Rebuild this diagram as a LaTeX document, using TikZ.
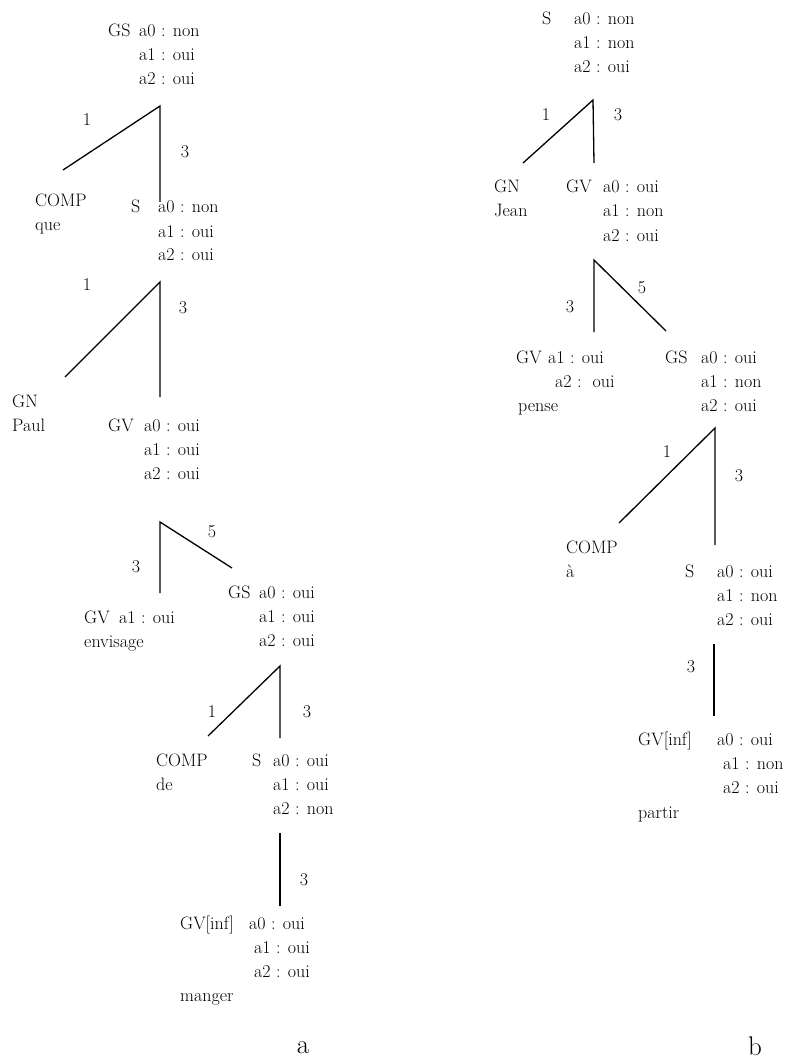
\documentclass[tikz,border=0pt]{standalone}
\begin{document}
\begin{tikzpicture}[x=1pt,y=-1pt,
  lbl/.style={anchor=base west, inner sep=0pt, font=\fontsize{18}{24}\selectfont},
  num/.style={anchor=center, inner sep=0pt, font=\fontsize{18}{24}\selectfont},
  sublbl/.style={anchor=center, inner sep=0pt, font=\fontsize{27}{30}\selectfont},
  edge/.style={line width=1.3pt}]
\useasboundingbox (0,0) rectangle (790,1059);
% ---------------- Tree a ----------------
\node[lbl] (aGS) at (108,37) {GS};
\node[lbl] (aGS0) at (139,37) {a0 : non};
\node[lbl] (aGS1) at (139,61) {a1 : oui};
\node[lbl] (aGS2) at (139,85) {a2 : oui};
\coordinate (aF1) at (160,106);
\coordinate (aF1l) at (63,170);
\coordinate (aF1v) at (160,202);
\draw[edge] (aF1l) -- (aF1) -- (aF1v);
\node[num] (aN1a) at (87,120) {1};
\node[num] (aN1b) at (185,152) {3};
\node[lbl] (aCOMP1) at (35,207) {COMP};
\node[lbl] (aque) at (35,231) {que};
\node[lbl] (aS1) at (131,213) {S};
\node[lbl] (aS10) at (158,213) {a0 : non};
\node[lbl] (aS11) at (158,237) {a1 : oui};
\node[lbl] (aS12) at (158,261) {a2 : oui};
\coordinate (aF2) at (160,282);
\coordinate (aF2l) at (65,377);
\coordinate (aF2v) at (160,397);
\draw[edge] (aF2l) -- (aF2) -- (aF2v);
\node[num] (aN2a) at (87,285) {1};
\node[num] (aN2b) at (183,308) {3};
\node[lbl] (aGN) at (12,407) {GN};
\node[lbl] (aPaul) at (12,431) {Paul};
\node[lbl] (aGV) at (108,431) {GV};
\node[lbl] (aGV0) at (144,431) {a0 : oui};
\node[lbl] (aGV1) at (144,455) {a1 : oui};
\node[lbl] (aGV2) at (144,479) {a2 : oui};
\coordinate (aF3) at (160,522);
\coordinate (aF3v) at (160,593);
\coordinate (aF3r) at (232,568);
\draw[edge] (aF3v) -- (aF3) -- (aF3r);
\node[num] (aN3a) at (136,567) {3};
\node[num] (aN3b) at (212,532) {5};
\node[lbl] (aGVb) at (84,623) {GV};
\node[lbl] (aGVb1) at (119,623) {a1 : oui};
\node[lbl] (aenv) at (84,647) {envisage};
\node[lbl] (aGSb) at (228,598) {GS};
\node[lbl] (aGSb0) at (259,598) {a0 : oui};
\node[lbl] (aGSb1) at (259,622) {a1 : oui};
\node[lbl] (aGSb2) at (259,646) {a2 : oui};
\coordinate (aF4) at (280,666);
\coordinate (aF4l) at (208,736);
\coordinate (aF4v) at (280,738);
\draw[edge] (aF4l) -- (aF4) -- (aF4v);
\node[num] (aN4a) at (212,712) {1};
\node[num] (aN4b) at (307,712) {3};
\node[lbl] (aCOMP2) at (156,766) {COMP};
\node[lbl] (ade) at (156,790) {de};
\node[lbl] (aS2) at (252,766) {S};
\node[lbl] (aS20) at (273,766) {a0 : oui};
\node[lbl] (aS21) at (273,790) {a1 : oui};
\node[lbl] (aS22) at (273,814) {a2 : non};
\coordinate (aF5) at (280,833);
\coordinate (aF5v) at (280,906);
\draw[edge] (aF5) -- (aF5v);
\node[num] (aN5) at (304,880) {3};
\node[lbl] (aGVinf) at (180,929) {GV[inf]};
\node[lbl] (aGVinf0) at (249,929) {a0 : oui};
\node[lbl] (aGVinf1) at (254,953) {a1 : oui};
\node[lbl] (aGVinf2) at (254,977) {a2 : oui};
\node[lbl] (amanger) at (180,1001) {manger};
\node[sublbl] (capa) at (303,1048) {a};
% ---------------- Tree b ----------------
\node[lbl] (bS) at (542,25) {S};
\node[lbl] (bS0) at (574,25) {a0 : non};
\node[lbl] (bS1) at (574,49) {a1 : non};
\node[lbl] (bS2) at (574,73) {a2 : oui};
\coordinate (bF1) at (593,100);
\coordinate (bF1l) at (523,163);
\coordinate (bF1v) at (594,163);
\draw[edge] (bF1l) -- (bF1) -- (bF1v);
\node[num] (bN1a) at (546,115) {1};
\node[num] (bN1b) at (618,115) {3};
\node[lbl] (bGN) at (494,193) {GN};
\node[lbl] (bJean) at (494,217) {Jean};
\node[lbl] (bGV) at (566,193) {GV};
\node[lbl] (bGV0) at (603,193) {a0 : oui};
\node[lbl] (bGV1) at (603,217) {a1 : non};
\node[lbl] (bGV2) at (603,241) {a2 : oui};
\coordinate (bF2) at (594,260);
\coordinate (bF2v) at (594,332);
\coordinate (bF2r) at (666,331);
\draw[edge] (bF2v) -- (bF2) -- (bF2r);
\node[num] (bN2a) at (570,307) {3};
\node[num] (bN2b) at (642,288) {5};
\node[lbl] (bGVb) at (516,363) {GV};
\node[lbl] (bGVb1) at (548,363) {a1 : oui};
\node[lbl] (bGVb2) at (555,387) {a2 :\ \ oui};
\node[lbl] (bpense) at (518,411) {pense};
\node[lbl] (bGS) at (665,363) {GS};
\node[lbl] (bGS0) at (701,363) {a0 : oui};
\node[lbl] (bGS1) at (701,387) {a1 : non};
\node[lbl] (bGS2) at (701,411) {a2 : oui};
\coordinate (bF3) at (715,428);
\coordinate (bF3l) at (619,523);
\coordinate (bF3v) at (715,545);
\draw[edge] (bF3l) -- (bF3) -- (bF3v);
\node[num] (bN3a) at (667,452) {1};
\node[num] (bN3b) at (739,476) {3};
\node[lbl] (bCOMP) at (566,553) {COMP};
\node[lbl] (ba) at (566,577) {à};
\node[lbl] (bSb) at (685,577) {S};
\node[lbl] (bSb0) at (717,577) {a0 : oui};
\node[lbl] (bSb1) at (717,601) {a1 : non};
\node[lbl] (bSb2) at (717,625) {a2 : oui};
\coordinate (bF4) at (714,644);
\coordinate (bF4v) at (714,716);
\draw[edge] (bF4) -- (bF4v);
\node[num] (bN4) at (691,667) {3};
\node[lbl] (bGVinf) at (638,745) {GV[inf]};
\node[lbl] (bGVinf0) at (717,745) {a0 : oui};
\node[lbl] (bGVinf1) at (723,769) {a1 : non};
\node[lbl] (bGVinf2) at (723,793) {a2 : oui};
\node[lbl] (bpartir) at (638,818) {partir};
\node[sublbl] (capb) at (755,1046) {b};
\end{tikzpicture}
\end{document}
